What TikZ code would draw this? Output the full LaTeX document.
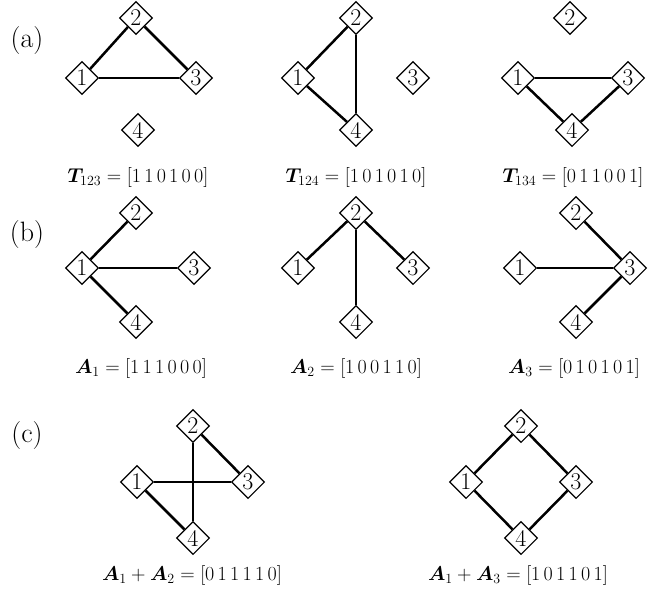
\RequirePackage{fix-cm}
\documentclass[tikz,border=0pt]{standalone}
\usepackage{amsmath,bm}
\usetikzlibrary{shapes.geometric}
\tikzset{
  vtx/.style={diamond,draw,line width=1.1pt,minimum width=33pt,minimum height=33pt,inner sep=0pt,fill=white,font=\fontsize{24}{27}\selectfont},
  edg/.style={line width=2.5pt},
  lbl/.style={font=\fontsize{20}{24}\selectfont,inner sep=0pt},
  plab/.style={font=\fontsize{28}{32}\selectfont,inner sep=0pt}
}
\newcommand{\bv}[6]{[#1\,#2\,#3\,#4\,#5\,#6]}
\begin{document}
\begin{tikzpicture}[x=1pt,y=-1pt]
\useasboundingbox (0,0) rectangle (670,589);
% panel labels
\node[plab] (pa) at (27,41) {(a)};
\node[plab] (pb) at (27,235) {(b)};
\node[plab] (pc) at (27,436) {(c)};
% (a) graph 1
\node[vtx] (a11) at (82,78) {1};
\node[vtx] (a12) at (136,18) {2};
\node[vtx] (a13) at (196,78) {3};
\node[vtx] (a14) at (138,130) {4};
\draw[edg] (a11) -- (a12); \draw[edg] (a12) -- (a13); \draw[edg] (a11) -- (a13);
\node[lbl] (ta1) at (138,177) {$\bm{T}_{123}=\bv110100$};
% (a) graph 2
\node[vtx] (a21) at (298,78) {1};
\node[vtx] (a22) at (356,18) {2};
\node[vtx] (a23) at (413,78) {3};
\node[vtx] (a24) at (356,130) {4};
\draw[edg] (a21) -- (a22); \draw[edg] (a22) -- (a24); \draw[edg] (a21) -- (a24);
\node[lbl] (ta2) at (356,177) {$\bm{T}_{124}=\bv101010$};
% (a) graph 3
\node[vtx] (a31) at (518,78) {1};
\node[vtx] (a32) at (570,18) {2};
\node[vtx] (a33) at (628,78) {3};
\node[vtx] (a34) at (572,130) {4};
\draw[edg] (a31) -- (a33); \draw[edg] (a31) -- (a34); \draw[edg] (a33) -- (a34);
\node[lbl] (ta3) at (573,177) {$\bm{T}_{134}=\bv011001$};
% (b) graph 1
\node[vtx] (b11) at (82,268) {1};
\node[vtx] (b12) at (136,213) {2};
\node[vtx] (b13) at (194,268) {3};
\node[vtx] (b14) at (136,322) {4};
\draw[edg] (b11) -- (b12); \draw[edg] (b11) -- (b13); \draw[edg] (b11) -- (b14);
\node[lbl] (tb1) at (141,368) {$\bm{A}_{1}=\bv111000$};
% (b) graph 2
\node[vtx] (b21) at (298,268) {1};
\node[vtx] (b22) at (356,213) {2};
\node[vtx] (b23) at (413,268) {3};
\node[vtx] (b24) at (356,322) {4};
\draw[edg] (b22) -- (b21); \draw[edg] (b22) -- (b23); \draw[edg] (b22) -- (b24);
\node[lbl] (tb2) at (356,368) {$\bm{A}_{2}=\bv100110$};
% (b) graph 3
\node[vtx] (b31) at (520,268) {1};
\node[vtx] (b32) at (576,213) {2};
\node[vtx] (b33) at (630,268) {3};
\node[vtx] (b34) at (576,322) {4};
\draw[edg] (b33) -- (b31); \draw[edg] (b33) -- (b32); \draw[edg] (b33) -- (b34);
\node[lbl] (tb3) at (574,368) {$\bm{A}_{3}=\bv010101$};
% (c) graph 1
\node[vtx] (c11) at (137,482) {1};
\node[vtx] (c12) at (193,426) {2};
\node[vtx] (c13) at (248,482) {3};
\node[vtx] (c14) at (193,538) {4};
\draw[edg] (c11) -- (c13); \draw[edg] (c12) -- (c14);
\draw[edg] (c12) -- (c13); \draw[edg] (c11) -- (c14);
\node[lbl] (tc1) at (192,575) {$\bm{A}_{1}+\bm{A}_{2}=\bv011110$};
% (c) graph 2
\node[vtx] (c21) at (466,482) {1};
\node[vtx] (c22) at (521,426) {2};
\node[vtx] (c23) at (576,482) {3};
\node[vtx] (c24) at (521,538) {4};
\draw[edg] (c21) -- (c22); \draw[edg] (c22) -- (c23); \draw[edg] (c23) -- (c24); \draw[edg] (c21) -- (c24);
\node[lbl] (tc2) at (518,575) {$\bm{A}_{1}+\bm{A}_{3}=\bv101101$};
\end{tikzpicture}
\end{document}
